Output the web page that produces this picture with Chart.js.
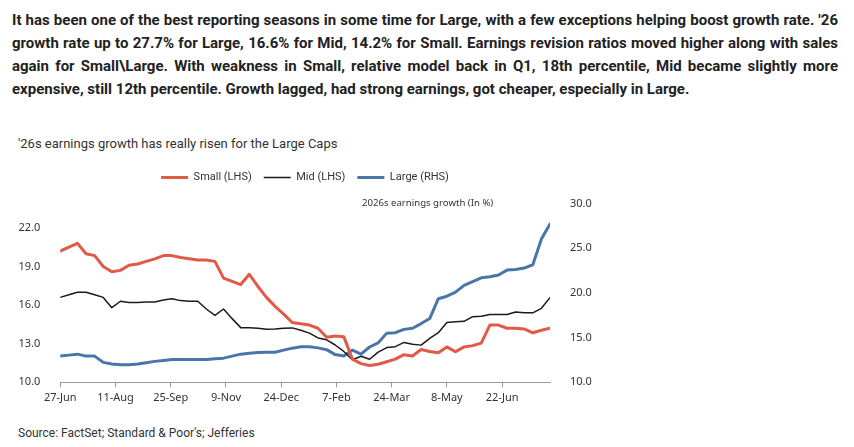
<!DOCTYPE html>
<html>
<head>
<meta charset="utf-8">
<script src="https://cdn.jsdelivr.net/npm/chart.js@4.4.1/dist/chart.umd.min.js"></script>
<style>
  html, body { margin: 0; padding: 0; background: #fff; }
  body { width: 854px; height: 447px; position: relative; overflow: hidden; font-family: Roboto, sans-serif; }
  #Headline { position: absolute; left: 12px; top: 9px; width: 826px; font-size: 15px; font-weight: bold; line-height: 23px; color: #222; text-align: justify; }
  #Sub { position: absolute; left: 18px; top: 136px; font-size: 13px; color: #333; }
  #AxisNote { position: absolute; left: 362px; top: 196px; font-family: 'Noto Sans', sans-serif; font-size: 9.6px; color: #333; }
  #Source { position: absolute; left: 18px; top: 426px; font-size: 12px; color: #333; }
  #Wrap { position: absolute; left: 0; top: 160px; width: 610px; height: 250px; }
</style>
</head>
<body>
<div id="Headline">It has been one of the best reporting seasons in some time for Large, with a few exceptions helping boost growth rate. '26 growth rate up to 27.7% for Large, 16.6% for Mid, 14.2% for Small. Earnings revision ratios moved higher along with sales again for Small\Large. With weakness in Small, relative model back in Q1, 18th percentile, Mid became slightly more expensive, still 12th percentile. Growth lagged, had strong earnings, got cheaper, especially in Large.</div>
<div id="Sub">'26s earnings growth has really risen for the Large Caps</div>
<div id="Wrap"><canvas id="Growth" width="610" height="250"></canvas></div>
<div id="AxisNote">2026s earnings growth (In %)</div>
<div id="Source">Source: FactSet; Standard &amp; Poor's; Jefferies</div>

<script>
// weekly dates
const Dates = [
    '2024-06-27','2024-07-04','2024-07-11','2024-07-18','2024-07-25','2024-08-01','2024-08-08','2024-08-15',
    '2024-08-22','2024-08-29','2024-09-05','2024-09-12','2024-09-19','2024-09-26','2024-10-03','2024-10-10',
    '2024-10-17','2024-10-24','2024-10-31','2024-11-07','2024-11-14','2024-11-21','2024-11-28','2024-12-05',
    '2024-12-12','2024-12-19','2024-12-26','2025-01-02','2025-01-09','2025-01-16','2025-01-23','2025-01-30',
    '2025-02-06','2025-02-13','2025-02-20','2025-02-27','2025-03-06','2025-03-13','2025-03-20','2025-03-27',
    '2025-04-03','2025-04-10','2025-04-17','2025-04-24','2025-05-01','2025-05-08','2025-05-15','2025-05-22',
    '2025-05-29','2025-06-05','2025-06-12','2025-06-19','2025-06-26','2025-07-03','2025-07-10','2025-07-17',
    '2025-07-24','2025-07-31'
];

// Small (LHS)
const Small = [
    20.2, 20.5, 20.8, 20.0, 19.85, 19.0, 18.6, 18.7, 19.1, 19.2, 19.4, 19.6, 19.85, 19.85, 19.7, 19.6,
    19.5, 19.5, 19.4, 18.1, 17.85, 17.6, 18.4, 17.45, 16.6, 15.9, 15.3, 14.65, 14.55, 14.45, 14.2, 13.5,
    13.6, 13.55, 11.8, 11.45, 11.3, 11.4, 11.6, 11.8, 12.15, 12.05, 12.55, 12.4, 12.3, 12.75, 12.37, 12.75,
    12.85, 13.05, 14.45, 14.45, 14.2, 14.2, 14.15, 13.85, 14.05, 14.2
];

// Mid (LHS)
const Mid = [
    16.6, 16.8, 17.0, 17.0, 16.8, 16.6, 15.8, 16.3, 16.2, 16.2, 16.25, 16.25, 16.4, 16.5, 16.35, 16.3,
    16.3, 15.7, 15.2, 15.7, 14.95, 14.25, 14.25, 14.2, 14.12, 14.15, 14.2, 14.23, 14.05, 13.82, 13.45, 13.3,
    12.9, 12.4, 11.75, 12.02, 11.79, 12.35, 12.7, 12.77, 13.1, 12.96, 12.89, 13.42, 13.86, 14.65, 14.7, 14.74,
    15.1, 15.13, 15.27, 15.27, 15.27, 15.46, 15.4, 15.4, 15.75, 16.58
];

// Large (RHS)
const Large = [
    12.93, 13.04, 13.15, 12.93, 12.93, 12.23, 12.04, 11.96, 11.96, 12.04, 12.19, 12.34, 12.45, 12.56, 12.56, 12.56,
    12.56, 12.56, 12.63, 12.7, 12.93, 13.15, 13.26, 13.34, 13.35, 13.37, 13.6, 13.82, 13.97, 13.97, 13.85, 13.65,
    13.1, 12.95, 13.6, 13.15, 13.95, 14.41, 15.5, 15.55, 15.92, 16.05, 16.57, 17.13, 19.35, 19.63, 20.09, 20.84,
    21.25, 21.69, 21.8, 22.0, 22.55, 22.62, 22.78, 23.15, 26.04, 27.7
];

const TickDates = ['2024-06-27','2024-08-11','2024-09-25','2024-11-09','2024-12-24','2025-02-07','2025-03-24','2025-05-08','2025-06-22'];
const TickLabels = ['27-Jun','11-Aug','25-Sep','9-Nov','24-Dec','7-Feb','24-Mar','8-May','22-Jun'];
const LeftTicks = [10, 13, 16, 19, 22];

const dayMs = 86400000;
const start = Date.parse(Dates[0]);
function dayOf(d) { return Math.round((Date.parse(d) - start) / dayMs); }

function points(values) {
    return values.map(function(v, i) { return {x: dayOf(Dates[i]), y: v}; });
}

// extra room under the legend
const legendGap = {
    id: 'legendGap',
    beforeInit: function(chart) {
        const fit = chart.legend.fit;
        chart.legend.fit = function() {
            fit.bind(chart.legend)();
            this.height += 10.5;
        };
    }
};

const tickFont = {family: "'Noto Sans', sans-serif", size: 11};

new Chart(document.getElementById('Growth'), {
    type: 'line',
    data: {
        datasets: [
            {label: 'Small (LHS)', data: points(Small), borderColor: '#E05A47', backgroundColor: '#E05A47', borderWidth: 3, yAxisID: 'y'},
            {label: 'Mid (LHS)', data: points(Mid), borderColor: '#1a1a1a', backgroundColor: '#1a1a1a', borderWidth: 1.5, yAxisID: 'y'},
            {label: 'Large (RHS)', data: points(Large), borderColor: '#4A75A8', backgroundColor: '#4A75A8', borderWidth: 3, yAxisID: 'y1'}
        ]
    },
    plugins: [legendGap],
    options: {
        responsive: false,
        animation: false,
        elements: {point: {radius: 0}, line: {tension: 0, borderJoinStyle: 'round', borderCapStyle: 'round'}},
        plugins: {
            tooltip: {enabled: false},
            legend: {
                position: 'top',
                labels: {
                    usePointStyle: true,
                    pointStyle: 'line',
                    pointStyleWidth: 27,
                    boxHeight: 11,
                    padding: 12,
                    color: '#333',
                    font: {family: 'Roboto', size: 11}
                }
            }
        },
        scales: {
            x: {
                type: 'linear',
                min: 0,
                max: dayOf(Dates[Dates.length - 1]),
                afterBuildTicks: function(axis) { axis.ticks = TickDates.map(function(d) { return {value: dayOf(d)}; }); },
                afterFit: function(axis) { axis.height = 27.7; },
                ticks: {
                    autoSkip: false, maxRotation: 0, color: '#333', font: tickFont, padding: 4,
                    callback: function(v) { const i = TickDates.findIndex(function(d) { return dayOf(d) === v; }); return i >= 0 ? TickLabels[i] : ''; }
                },
                grid: {display: true, drawOnChartArea: false, drawTicks: true, tickLength: 5, color: '#999'},
                border: {display: true, color: '#999', width: 1}
            },
            y: {
                position: 'left',
                min: 10,
                max: 23.9,
                afterBuildTicks: function(axis) { axis.ticks = LeftTicks.map(function(v) { return {value: v}; }); },
                afterFit: function(axis) { axis.width = 60.3; },
                ticks: {color: '#333', font: tickFont, padding: 12, callback: function(v) { return v.toFixed(1); }},
                grid: {display: false},
                border: {display: false}
            },
            y1: {
                position: 'right',
                min: 10,
                max: 30,
                ticks: {stepSize: 5, color: '#333', font: tickFont, padding: 12, callback: function(v) { return v.toFixed(1); }},
                afterFit: function(axis) { axis.width = 60; },
                grid: {display: false},
                border: {display: false}
            }
        }
    }
});
</script>
</body>
</html>
